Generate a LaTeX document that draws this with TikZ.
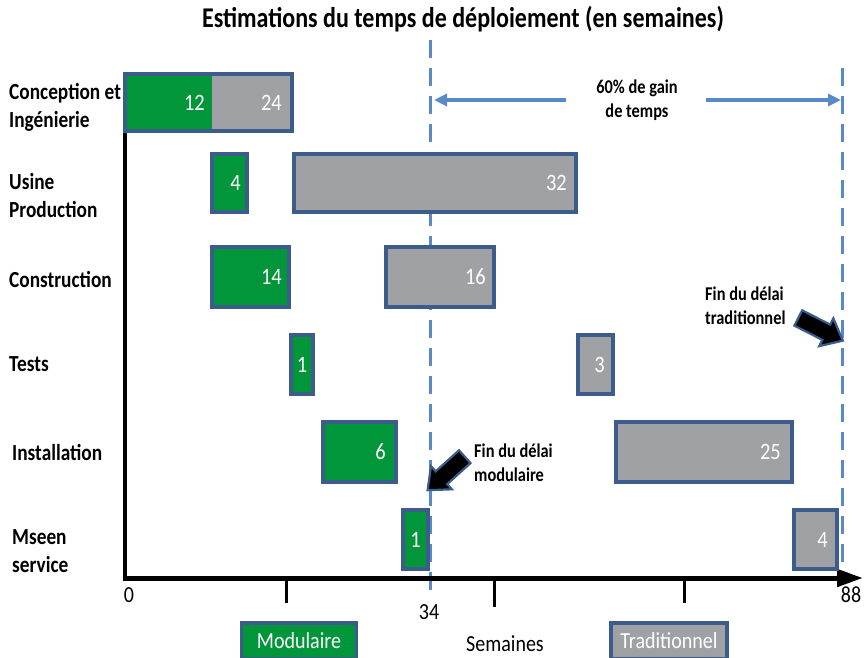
\documentclass[tikz,border=0pt]{standalone}
\usepackage{fontspec}
\setmainfont{Carlito}
\newfontfamily\labfont{Carlito}[FakeStretch=0.84]
\newfontfamily\numfont{Carlito}[FakeStretch=0.87]
\usetikzlibrary{arrows.meta,shapes.arrows,fit}
\definecolor{modgreen}{RGB}{0,150,57}
\definecolor{tradgray}{RGB}{160,161,165}
\definecolor{frameblue}{RGB}{60,92,140}
\definecolor{dashblue}{RGB}{88,138,200}
\begin{document}
\begin{tikzpicture}[x=1pt,y=-1pt,
  barfill/.style={inner sep=0pt, outer sep=0pt},
  gbar/.style={barfill, fill=modgreen, draw=frameblue, line width=3.2pt},
  tbar/.style={barfill, fill=tradgray, draw=frameblue, line width=3.2pt},
  frame/.style={draw=frameblue, line width=3.2pt},
  num/.style={text=white, inner sep=0pt, font=\numfont\fontsize{23.5}{23.5}\selectfont},
  rowlab/.style={anchor=west, align=left, inner sep=0pt, font=\labfont\bfseries\fontsize{23}{28}\selectfont},
  note/.style={inner sep=0pt, font=\labfont\bfseries\fontsize{19.5}{24}\selectfont},
  axisline/.style={line width=4pt, black},
  tick/.style={line width=3pt, black},
  axisnum/.style={inner sep=0pt, font=\numfont\fontsize{23}{23}\selectfont},
  limit/.style={dashblue, line width=3pt, dash pattern=on 18pt off 10pt},
  gainarrow/.style={dashblue, line width=3.5pt, -{Triangle[length=13pt,width=12pt]}},
  blockarrow/.style={single arrow, fill=black, draw=frameblue, line width=2.2pt, inner sep=7.5pt,
     minimum height=50pt, single arrow head extend=7pt, single arrow tip angle=80},
  legbox/.style={inner sep=0pt, draw=frameblue, line width=3.2pt, text=white, font=\numfont\fontsize{23}{23}\selectfont}
]
\useasboundingbox (0,0) rectangle (864,657);

% title
\node[inner sep=0pt, font=\labfont\bfseries\fontsize{28.6}{28.6}\selectfont] (title) at (463,19) {Estimations du temps de déploiement (en semaines)};

% dashed limit lines
\coordinate (m1) at (430,40);
\coordinate (m2) at (430,597);
\coordinate (t1c) at (842,68);
\coordinate (t2c) at (842,578);
\draw[limit] (m1) -- (m2);
\draw[limit] (t1c) -- (t2c);

% axes
\coordinate (origin) at (125,578);
\coordinate (ytop) at (125,133);
\coordinate (xend) at (863,578);
\draw[axisline] (ytop) -- (origin);
\draw[line width=5pt, -{Triangle[length=26pt,width=17pt]}] ([xshift=-2pt]origin) -- (xend);
\coordinate (k1a) at (286,578); \coordinate (k1b) at (286,603);
\coordinate (k2a) at (494,578); \coordinate (k2b) at (494,607);
\coordinate (k3a) at (684,578); \coordinate (k3b) at (684,603);
\draw[tick] (k1a) -- (k1b);
\draw[tick] (k2a) -- (k2b);
\draw[tick] (k3a) -- (k3b);
\node[axisnum] (x0) at (129,595) {0};
\node[axisnum] (x34) at (429,612) {34};
\node[axisnum] (x88) at (851,595) {88};

% row labels
\node[rowlab] (r1) at (9,107) {Conception et\\Ingénierie};
\node[rowlab] (r2) at (9,196) {Usine\\Production};
\node[rowlab] (r3) at (9,279) {Construction};
\node[rowlab] (r4) at (9,364) {Tests};
\node[rowlab] (r5) at (12,452) {Installation};
\node[rowlab] (r6) at (12,551) {Mseen\\service};

% row 1
\node[barfill, fill=modgreen, fit={(125,74)(212,131)}] (g1) {};
\node[barfill, fill=tradgray, fit={(212,74)(292,131)}] (t1) {};
\draw[frame] (g1.north west) rectangle (t1.south east);
\node[num, anchor=east] (ng1) at ([xshift=-7pt]g1.east) {12};
\node[num, anchor=east] (nt1) at ([xshift=-10pt]t1.east) {24};

% row 2
\node[gbar, fit={(212,154)(247,212)}] (g2) {};
\node[num, anchor=east] (ng2) at ([xshift=-6pt]g2.east) {4};
\node[tbar, fit={(294,154)(576,212)}] (t2) {};
\node[num, anchor=east] (nt2) at ([xshift=-9pt]t2.east) {32};

% row 3
\node[gbar, fit={(212,247)(289,307)}] (g3) {};
\node[num, anchor=east] (ng3) at ([xshift=-7pt]g3.east) {14};
\node[tbar, fit={(386,247)(494,307)}] (t3) {};
\node[num, anchor=east] (nt3) at ([xshift=-8pt]t3.east) {16};

% row 4
\node[gbar, fit={(291,335)(313,394)}] (g4) {};
\node[num] (ng4) at (g4.center) {1};
\node[tbar, fit={(578,335)(613,394)}] (t4) {};
\node[num, anchor=east] (nt4) at ([xshift=-8pt]t4.east) {3};

% row 5
\node[gbar, fit={(323,422)(396,482)}] (g5) {};
\node[num, anchor=east] (ng5) at ([xshift=-10pt]g5.east) {6};
\node[tbar, fit={(616,422)(792,482)}] (t5) {};
\node[num, anchor=east] (nt5) at ([xshift=-11pt]t5.east) {25};

% row 6
\node[gbar, fit={(403,510)(428,569)}] (g6) {};
\node[num] (ng6) at (g6.center) {1};
\node[tbar, fit={(794,510)(837,569)}] (t6) {};
\node[num, anchor=east] (nt6) at ([xshift=-9pt]t6.east) {4};

% gain annotation
\node[note, align=center] (gain) at (637,100) {60\% de gain\\de temps};
\coordinate (gl1) at (566,100);
\coordinate (gl2) at (434,100);
\coordinate (gr1) at (706,100);
\coordinate (gr2) at (841,100);
\draw[gainarrow] (gl1) -- (gl2);
\draw[gainarrow] (gr1) -- (gr2);

% end-of-delay markers
\node[blockarrow, rotate=222] (amod) at (450,470) {};
\node[note, anchor=west, align=left] (lmod) at (474,463) {Fin du délai\\modulaire};
\node[blockarrow, rotate=-27] (atrad) at (816,327) {};
\node[note, anchor=west, align=left] (ltrad) at (705,306) {Fin du délai\\traditionnel};

% legend
\node[legbox, fill=modgreen, minimum width=115pt, minimum height=36pt] (legm) at (299,641) {Modulaire};
\node[inner sep=0pt, font=\numfont\fontsize{23}{23}\selectfont] (sem) at (505,644) {Semaines};
\node[legbox, fill=tradgray, minimum width=116pt, minimum height=36pt] (legt) at (669,641) {Traditionnel};
\end{tikzpicture}
\end{document}
